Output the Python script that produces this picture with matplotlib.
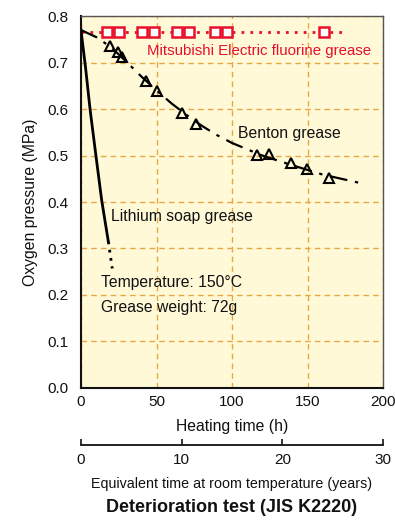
import matplotlib
matplotlib.use("Agg")
import matplotlib.pyplot as plt

plt.rcParams['font.family'] = ['Liberation Sans', 'DejaVu Sans']

# Mitsubishi Electric fluorine grease (squares) and its dotted line
fluor_h = [17.4, 25.2, 40.6, 48.3, 63.8, 71.5, 88.7, 96.5, 161.0]
fluor_p = [0.766, 0.766, 0.766, 0.766, 0.766, 0.766, 0.766, 0.766, 0.766]
fluor_line_h = [0, 176]
fluor_line_p = [0.766, 0.766]

# Benton grease measured points (triangles)
benton_h = [19.2, 24.7, 27.0, 43.0, 50.1, 66.7, 76.2, 116.4, 124.7, 139.1, 149.5, 164.4]
benton_p = [0.735, 0.723, 0.711, 0.661, 0.639, 0.592, 0.567, 0.501, 0.503, 0.483, 0.470, 0.451]
# Benton grease trend curve
benton_curve_h = [0, 10, 20, 30, 40, 50, 60, 70, 80, 90, 100, 120, 140, 160, 186]
benton_curve_p = [0.770, 0.755, 0.733, 0.702, 0.670, 0.640, 0.612, 0.587, 0.564, 0.544, 0.527, 0.500, 0.479, 0.459, 0.440]

# Lithium soap grease
lith_h = [0, 3, 6, 10, 13.7, 18.1]
lith_p = [0.770, 0.690, 0.600, 0.497, 0.404, 0.315]
lith_dot_h = [18.1, 20.7]
lith_dot_p = [0.315, 0.257]

x_ticks = [0, 50, 100, 150, 200]
y_ticks = [0.0, 0.1, 0.2, 0.3, 0.4, 0.5, 0.6, 0.7, 0.8]
y_tick_labels = ['0.0', '0.1', '0.2', '0.3', '0.4', '0.5', '0.6', '0.7', '0.8']
year_ticks = [0, 10, 20, 30]

red = '#E8102A'
grid_col = '#E6A843'
bg = '#FFF9D8'
txt = '#111111'

fig = plt.figure(figsize=(3.95, 5.2), dpi=100)
ax = fig.add_axes([0.205, 0.254, 0.765, 0.715])
ax.set_facecolor(bg)
ax.set_xlim(0, 200)
ax.set_ylim(0, 0.8)
ax.set_xticks(x_ticks)
ax.set_yticks(y_ticks)
ax.set_yticklabels(y_tick_labels)
ax.tick_params(length=0, labelsize=11, colors=txt)
ax.tick_params(axis='y', pad=9)
ax.tick_params(axis='x', pad=5)
ax.grid(True, color=grid_col, linestyle=(0, (4, 3)), linewidth=1.0)
ax.set_axisbelow(True)
for side in ['top', 'right']:
    ax.spines[side].set_color('#555555')
    ax.spines[side].set_linewidth(1.0)
for side in ['left', 'bottom']:
    ax.spines[side].set_color(txt)
    ax.spines[side].set_linewidth(1.5)

ax.set_xlabel('Heating time (h)', fontsize=11.3, labelpad=7, color=txt)
ax.set_ylabel('Oxygen pressure (MPa)', fontsize=11.3, labelpad=7, color=txt)

# fluorine grease
ax.plot(fluor_line_h, fluor_line_p, color=red, linestyle=(0, (1.0, 2.2)), linewidth=2.0, zorder=3)
ax.plot(fluor_h, fluor_p, linestyle='none', marker='s', markersize=7,
        markerfacecolor='white', markeredgecolor=red, markeredgewidth=1.8, zorder=4)

# Benton grease
ax.plot(benton_curve_h, benton_curve_p, color='black', linestyle=(0, (8, 3.5, 1.5, 3.5)),
        linewidth=1.6, zorder=3)
ax.plot(benton_h, benton_p, linestyle='none', marker='^', markersize=7,
        markerfacecolor='none', markeredgecolor='black', markeredgewidth=1.5, zorder=4)

# Lithium soap grease
ax.plot(lith_h, lith_p, color='black', linewidth=2.0, zorder=3)
ax.plot(lith_dot_h, lith_dot_p, color='black', linestyle=(0, (1, 2)), linewidth=2.0, zorder=3)

ax.text(43.7, 0.725, 'Mitsubishi Electric fluorine grease', color=red, fontsize=10.8,
        ha='left', va='center')
ax.text(104, 0.548, 'Benton grease', color=txt, fontsize=11.3, ha='left', va='center')
ax.text(19.9, 0.368, 'Lithium soap grease', color=txt, fontsize=11.3, ha='left', va='center')
ax.text(13, 0.226, 'Temperature: 150\u00b0C', color=txt, fontsize=11.3, ha='left', va='center')
ax.text(13, 0.173, 'Grease weight: 72g', color=txt, fontsize=11.3, ha='left', va='center')

# secondary axis (years)
ax2 = fig.add_axes([0.205, 0.144, 0.765, 0.0001])
ax2.set_xlim(0, 30)
ax2.set_xticks(year_ticks)
ax2.set_yticks([])
ax2.patch.set_visible(False)
for side in ['top', 'right', 'left']:
    ax2.spines[side].set_visible(False)
ax2.spines['bottom'].set_linewidth(1.3)
ax2.spines['bottom'].set_color(txt)
ax2.tick_params(axis='x', direction='in', length=4, width=1.2, labelsize=11, pad=6, colors=txt)
ax2.set_xlabel('Equivalent time at room temperature (years)', fontsize=10.3, labelpad=7, color=txt)

fig.text(0.587, 0.024, 'Deterioration test (JIS K2220)', fontsize=13, fontweight='bold',
         ha='center', va='center', color=txt)

fig.savefig('out.png', dpi=100)
